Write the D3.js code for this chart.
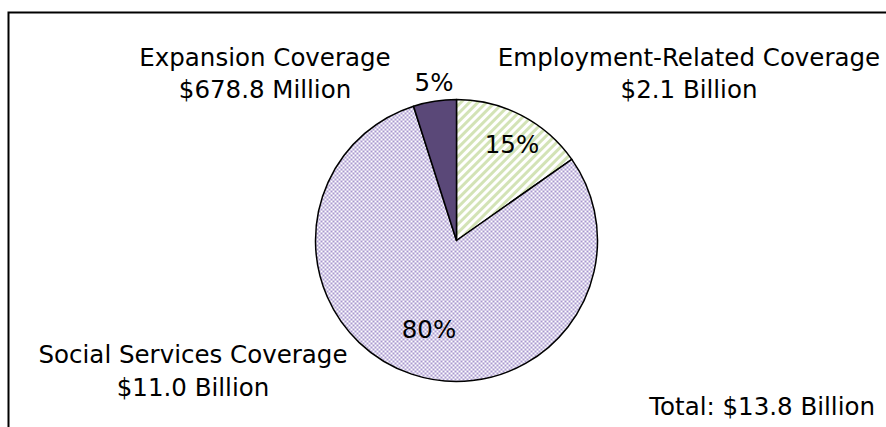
<!DOCTYPE html>
<html><head><meta charset="utf-8">
<script src="https://cdn.jsdelivr.net/npm/d3@7"></script>
<style>body{margin:0;background:#fff}svg{display:block}</style>
</head><body>
<script>
const categories = ["Employment-Related Coverage", "Social Services Coverage", "Expansion Coverage"];
const valuesBillion = [2.1, 11.0, 0.6788];
const amountLabels = ["$2.1 Billion", "$11.0 Billion", "$678.8 Million"];
const percentLabels = ["15%", "80%", "5%"];
const totalLabel = "Total: $13.8 Billion";

const W = 886, H = 427;
const svg = d3.select("body").append("svg").attr("width", W).attr("height", H);
const defs = svg.append("defs");

const checker = defs.append("pattern").attr("id", "checker").attr("patternUnits", "userSpaceOnUse")
  .attr("width", 4).attr("height", 4);
checker.append("rect").attr("width", 4).attr("height", 4).attr("fill", "#ffffff");
checker.append("rect").attr("width", 2).attr("height", 2).attr("fill", "#a898cf");
checker.append("rect").attr("x", 2).attr("y", 2).attr("width", 2).attr("height", 2).attr("fill", "#a898cf");

const hatch = defs.append("pattern").attr("id", "hatch").attr("patternUnits", "userSpaceOnUse")
  .attr("width", 6).attr("height", 6).attr("patternTransform", "rotate(45)");
hatch.append("rect").attr("width", 6).attr("height", 6).attr("fill", "#ffffff");
hatch.append("rect").attr("width", 3).attr("height", 6).attr("fill", "#d3e3b6");

const fills = ["url(#hatch)", "url(#checker)", "#5a4878"];

// border frame (extends past view)
svg.append("rect").attr("x", 8.5).attr("y", 12.5).attr("width", 900).attr("height", 440)
  .attr("fill", "none").attr("stroke", "#000").attr("stroke-width", 2);

const cx = 456.5, cy = 240.5, r = 141;
const pie = d3.pie().sort(null).value(d => d);
const arcs = pie(valuesBillion);
const arc = d3.arc().innerRadius(0).outerRadius(r);

const g = svg.append("g").attr("transform", `translate(${cx},${cy})`);
g.selectAll("path").data(arcs).join("path")
  .attr("d", arc)
  .attr("fill", (d, i) => fills[i])
  .attr("stroke", "#000").attr("stroke-width", 1.5).attr("stroke-linejoin", "round");

const font = "'DejaVu Sans', sans-serif";
const fs = 24.5;
function txt(x, y, s, anchor) {
  svg.append("text").attr("x", x).attr("y", y).attr("text-anchor", anchor || "middle")
    .attr("font-family", font).attr("font-size", fs).attr("fill", "#000").text(s);
}
// percent labels
const pctPos = [[512, 153], [429, 338], [434, 91]];
percentLabels.forEach((p, i) => txt(pctPos[i][0], pctPos[i][1], p));
// category labels
const catPos = [[689, 66, 98], [193, 363, 396], [265, 66, 98]];
categories.forEach((c, i) => {
  txt(catPos[i][0], catPos[i][1], c);
  txt(catPos[i][0], catPos[i][2], amountLabels[i]);
});
txt(875, 415, totalLabel, "end");
</script>
</body></html>
